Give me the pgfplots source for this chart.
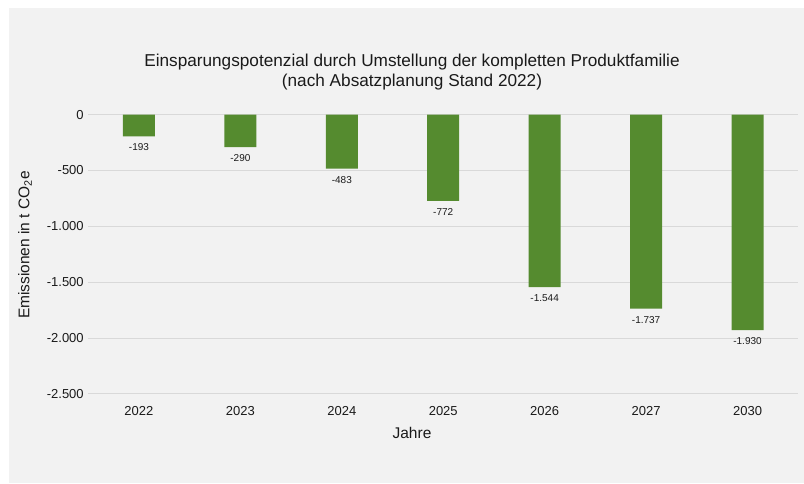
\documentclass[border=0pt]{standalone}
\usepackage{fontspec}
\setmainfont{Liberation Sans}
\usepackage{pgfplots}
\pgfplotsset{compat=1.18}
\definecolor{bg}{HTML}{F2F2F2}
\definecolor{barc}{HTML}{558B2F}
\definecolor{gridc}{HTML}{D9D9D9}
\definecolor{txt}{HTML}{1A1A1A}
\begin{document}
\begin{tikzpicture}[x=1pt,y=1pt]
\useasboundingbox (0,0) rectangle (804,483);
\fill[white] (0,0) rectangle (804,483);
\fill[bg] (9,0) rectangle (804,475);
\node[align=center, font=\fontsize{17.2}{19.5}\selectfont, text=txt] at (412,411) {Einsparungspotenzial durch Umstellung der kompletten Produktfamilie\\(nach Absatzplanung Stand 2022)};
\node[font=\fontsize{15.5}{17}\selectfont, text=txt] at (412,50) {Jahre};
\node[font=\fontsize{15.5}{17}\selectfont, text=txt, rotate=90] at (25,238) {Emissionen in t CO\textsubscript{2}e};
\begin{axis}[at={(87,80)}, anchor=south west, scale only axis,
  width=710pt, height=279pt,
  ybar, bar width=32pt,
  xmin=-0.5, xmax=6.5, ymin=-2500, ymax=0,
  xtick={0,1,2,3,4,5,6},
  xticklabels={2022,2023,2024,2025,2026,2027,2030},
  ytick={-2500,-2000,-1500,-1000,-500,0},
  ymajorgrids, grid style={gridc, line width=0.8pt},
  axis line style={draw=none}, major tick length=0pt,
  tick label style={font=\fontsize{13}{15}\selectfont, text=txt},
  xticklabel style={yshift=-9pt},
  yticklabel style={xshift=-1pt},
  nodes near coords,
  nodes near coords style={font=\fontsize{10}{12}\selectfont, text=txt, anchor=north, yshift=-4pt},
  clip=false,
  /pgf/number format/assume math mode=true,
  /pgf/number format/use comma,
  /pgf/number format/1000 sep={.},
]
\addplot[fill=barc, draw=none] coordinates {(0,-193) (1,-290) (2,-483) (3,-772) (4,-1544) (5,-1737) (6,-1930)};
\end{axis}
\end{tikzpicture}
\end{document}
